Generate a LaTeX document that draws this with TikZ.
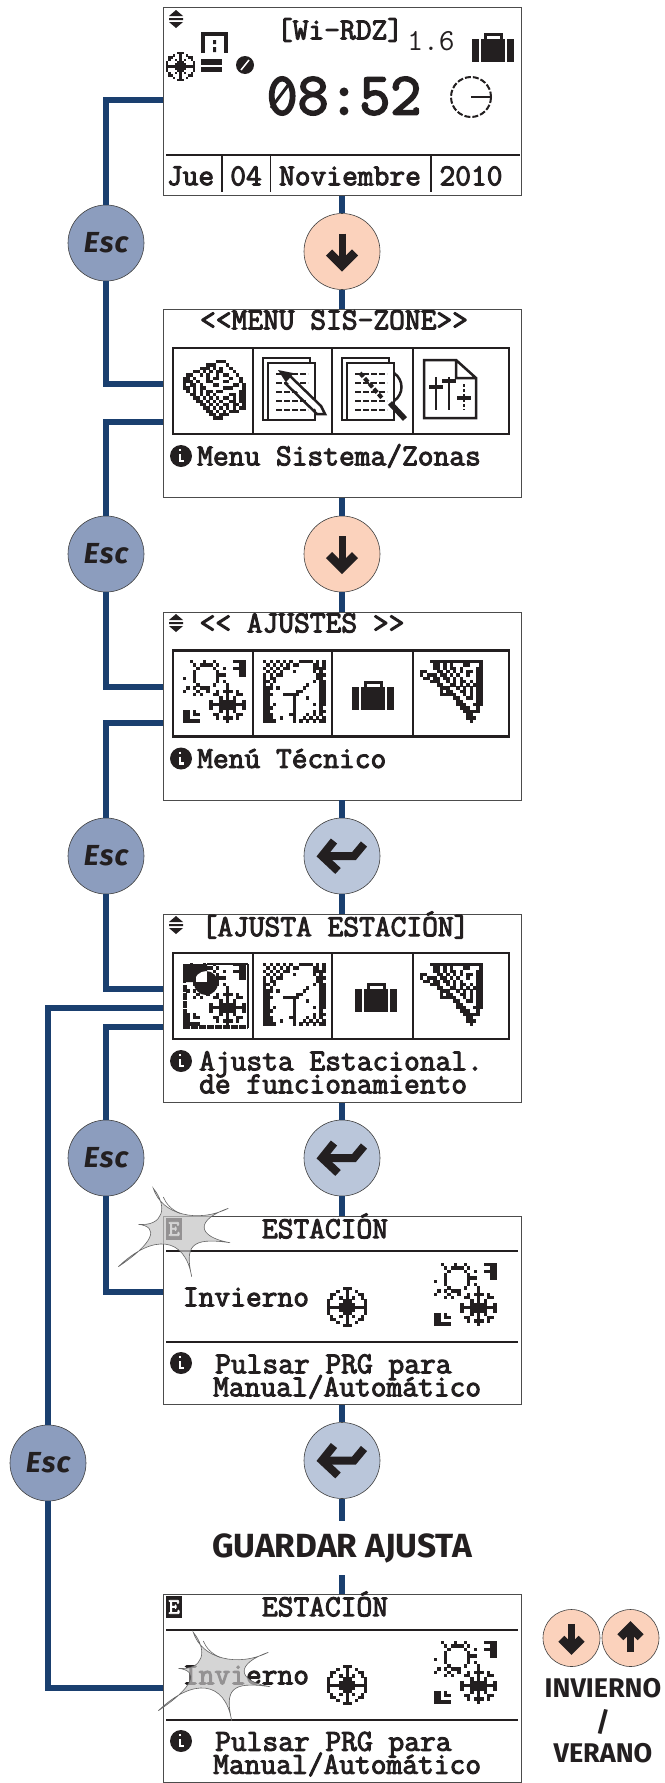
\documentclass[tikz,border=0pt]{standalone}
\usepackage{fontspec}
\setsansfont{Fira Sans}
\newfontfamily\lcdface{Latin Modern Mono}[FakeBold=3.2]
\usepackage{tikz}
\usetikzlibrary{patterns,positioning}
\definecolor{linkblue}{HTML}{1A3F6F}
\definecolor{escblue}{HTML}{8C9DBE}
\definecolor{enterblue}{HTML}{BAC6DA}
\definecolor{keypeach}{HTML}{FBD2BC}
\definecolor{inkblack}{HTML}{231F20}
\lineskiplimit=-30pt
% LCD bitmaps, one string per row, x is a dark pixel
\newcount\pixcol
\def\pixscan#1{\ifx#1;\else\if#1x\fill[inkblack] (\the\pixcol*\pixsize,\pixj*\pixsize-\pixsize) rectangle ++(\pixsize+0.15,\pixsize+0.15);\fi\advance\pixcol by 1 \expandafter\pixscan\fi}
\newcommand{\pixmap}[2]{\def\pixsize{#1}\foreach \pixline [count=\pixj] in {#2} {\pixcol=0 \expandafter\pixscan\pixline;}}
\begin{document}
\begin{tikzpicture}[
x=1pt,y=-1pt,
link/.style={line width=5.5pt,draw=linkblue},
screen/.style={draw=black!70,line width=0.9pt,fill=white,minimum width=358pt,minimum height=188pt,inner sep=0pt},
lcd/.style={font=\fontsize{30.6}{23}\selectfont\lcdface,text=inkblack,inner sep=0pt,align=left},
lcdthin/.style={font=\fontsize{30.6}{23}\selectfont\ttfamily,text=inkblack,inner sep=0pt},
esckey/.style={circle,draw=black!75,line width=0.6pt,fill=escblue,minimum size=76pt,inner sep=0pt,font=\fontsize{29}{29}\selectfont\sffamily\bfseries\itshape,text=inkblack},
downkey/.style={circle,draw=black!75,line width=0.6pt,fill=keypeach,minimum size=76pt,inner sep=0pt},
enterkey/.style={circle,draw=black!75,line width=0.6pt,fill=enterblue,minimum size=76pt,inner sep=0pt},
smallkey/.style={circle,draw=black!75,line width=0.6pt,fill=keypeach,minimum size=57pt,inner sep=0pt},
caption/.style={font=\fontsize{33.5}{33.5}\selectfont\sffamily\bfseries,text=inkblack,inner sep=0pt},
sidetext/.style={font=\fontsize{27}{27}\selectfont\sffamily\bfseries,text=inkblack,inner sep=0pt},
rule/.style={line width=1.6pt,draw=inkblack},
strip/.style={line width=2.8pt,draw=inkblack},
pix/.style={line width=2.5pt,draw=inkblack},
arrowdown/.pic={\draw[line width=7pt,inkblack] (0,-18) -- (0,12);
    \draw[line width=8.5pt,inkblack,line join=miter] (-13,1) -- (0,14) -- (13,1);},
arrowup/.pic={\draw[line width=7pt,inkblack] (0,18) -- (0,-12);
    \draw[line width=8.5pt,inkblack,line join=miter] (-13,-1) -- (0,-14) -- (13,-1);},
enterglyph/.pic={\draw[line width=8pt,inkblack,line join=miter] (-8,-15) -- (-20,0) -- (-4,15);
    \draw[line width=8pt,inkblack] (-20,0) -- (12,0) -- (22,-12);},
updown/.pic={\fill[inkblack] (0,-9) -- (7,-3) -- (-7,-3) -- cycle (-7,-1) rectangle (7,1) (0,9) -- (7,3) -- (-7,3) -- cycle;},
infomark/.pic={\fill[inkblack] (0,0) circle (11);
    \draw[white,line width=2.6pt] (-1,-2) -- (-1,5) -- (3,5) (-1,-7) -- (-1,-5);},
case/.pic={\fill[inkblack] (-21,-10) rectangle (21,13);
    \draw[inkblack,line width=3pt] (-8,-10) -- (-8,-15) -- (8,-15) -- (8,-10);
    \draw[white,line width=1.5pt] (-13,-10) -- (-13,13) (13,-10) -- (13,13);},
snowflake/.pic={\pixmap{3.1}{oooooxxxooooo,oooxooxooxooo,oxxoooxoooxxo,oxooxoxoxooxo,xooooxxxoooox,xoooxxxxxooox,xxxxxxxxxxxxx,xoooxxxxxooox,xooooxxxoooox,oxooxoxoxooxo,oxxoooxoooxxo,oooxooxooxooo,oooooxxxooooo}},
sunsnow/.pic={\pixmap{3.3}{ooxoooxooxoooooxxxx,oooxoxxxxoxooooooxx,ooooxooooxooxooxxxx,oooxooooooxooooooxx,oooxooooooxxxooooxx,xooxooooooxoooooooo,oooxooooooxoxoooooo,ooooxooooxoooxooooo,oxoxoxxxoooooxooooo,xoooxooxooxoxxxoxoo,oooxoxoooxxooxooxxo,oooooooooooxoxoxooo,ooooooooxooxxxxxoox,ooooooooxxxxxxxxxxx,ooooooooxooxxxxxoox,xxoxoooooooxoxoxooo,xxoxxoooo xxooxooxxo,xxooooooooxoxxxoxoo,xxxxxooooooooxooooo}},
ledger/.pic={\pixmap{3.3}{ooooooooooxxxoooooo,oooooooxxxoooxooooo,oooooxxxoxoxooxoooo,oooxxoxoxoxxoooxooo,oxxooxoxooxoxxooxoo,xxoxoooxoxxoooxooxo,xxxoxooxxoooxxoooxo,xoxxoxoooxxooooxxox,xxoxoxxoooooxxxooox,oxoxoxoxxoxxoooooxx,ooxxoxoxoxooooxxoxx,oooxxoxoxoxoxxoxoxx,ooooxxoxoxoxooxxoxx,oooooxxoxoxoxxoxxox,ooooooxxoxoxoxoxoxx,oooooooxxoxoxoxxxoo,ooooooooxxoxxxooooo,oooooooooxxxooooooo}},
pages/.pic={\draw[pix] (5,62) -- (0,62) -- (0,0) -- (47,0) -- (47,5);
    \draw[pix,fill=white] (5,5) rectangle (52,62);
    \draw[pix,dash pattern=on 6pt off 2pt] (13,16) -- (45,16) (13,25) -- (45,25) (13,34) -- (45,34) (13,43) -- (45,43) (13,52) -- (45,52);},
pencil/.pic={\fill[inkblack] (15,12) -- (30,15) -- (24,26) -- cycle;
    \draw[white,line width=7pt] (26,21) -- (56,50);
    \draw[pix] (26,17) -- (58,48) -- (62,56) -- (54,56) -- (22,25);},
lens/.pic={\draw[pix] (52,15) .. controls (62,22) and (62,36) .. (52,43);
    \draw[inkblack,line width=5.5pt] (48,45) -- (63,61);
    \draw[inkblack,line width=4pt,dash pattern=on 5pt off 2pt] (18,15) -- (40,40);},
sliders/.pic={\draw[pix] (0,0) -- (32,0) -- (52,18) -- (52,58) -- (0,58) -- cycle (32,0) -- (32,18) -- (52,18);
    \draw[pix] (12,17) -- (12,50) (25,17) -- (25,50);
    \draw[pix,dash pattern=on 3pt off 2pt] (40,24) -- (40,50);
    \draw[pix,line width=3.5pt] (5,27) -- (19,27) (18,21) -- (32,21) (33,38) -- (47,38);},
dialclock/.pic={\pixmap{3.3}{xoxoxoxoxooxxxxoxox,oxoxoxoxoxxooooxxox,xoxoxoxxoooooooxxxx,oxoxoxoooxoooooxoxo,xoxoxxooooooooooxxx,xoxxooooooooooooxxo,xxoxoooooooooooxoxx,xoxooooooooooxoooxx,xxxoxoooooooxooooxx,xxooooooooxxoooooxx,xxxoooxxxxxooooooxx,xxoooooooxoooxoooxx,xxoooooooxoooooooxx,xxoxoooooxoooooxoxx,xxxooooooxoooooooxo,xxoooooooxoooooxoxx,xxxoooooxxoooxoxoxo,xxxooxoooxooxoxoxox,xxxxoooooxoxoxoxoxx}},
wedge/.pic={\pixmap{3.3}{oooxxxxxxxxxxxxxxxx,ooooxxoxoxoooxxooox,ooooxxoxoxxoxooooxx,xxoooxxoxoxoxoxxoxx,xoxxxoxxoxoxooxooxx,oxxoxxoxxoxoxooooxx,oooxxxooxoxoxxoxoxx,oooooxxooxxoxoxoxxx,ooooooxxxooxoxoxoxx,ooooooxoxxooxxoxoxx,ooooooxxxxxooxoxoxx,ooooooooooxxooxxoxx,oooooooooooxxooooxx,oooooooooooxxxooxxx,ooooooooooooxxxooxo,oooooooooooooxxxxxo,ooooooooooooooxxooo,ooooooooooooooxxxoo,oooooooooooooooxooo}},
flash/.pic={\draw[draw=black!60,line width=0.6pt,fill=black!23,fill opacity=0.7]
    (-18.7,-43.7) .. controls (-10.3,-17) and (26,-8.7) .. (56.3,-23.7)
    .. controls (23,-12) and (24.7,4.7) .. (58,10.7)
    .. controls (18,4.7) and (13,14.7) .. (19.7,44.7)
    .. controls (13,4.7) and (-18.7,1.3) .. (-53.7,34.7)
    .. controls (-18.7,11.3) and (-12,-5.3) .. (-33.7,-7.7)
    .. controls (-8.7,-5.3) and (-3.7,-25.3) .. (-18.7,-43.7) -- cycle;
    \draw[black!60,line width=0.6pt] (-8.7,-35) .. controls (-6,-28) and (0,-22) .. (8,-18.7);}
]
\useasboundingbox (0,0) rectangle (664,1783);

% Screens
\node[screen] (scrClock) at (342,101.5) {};
\node[screen] (scrMenu) at (342,403.5) {};
\node[screen] (scrSettings) at (342,706) {};
\node[screen] (scrSeason) at (342,1008.5) {};
\node[screen] (scrEdit) at (342,1310.5) {};
\node[screen] (scrSaved) at (342,1688) {};

% Keys
\node[esckey] (escA) at (106,243) {E\kern1pt s\kern1pt c};
\node[esckey] (escB) at (106,554) {E\kern1pt s\kern1pt c};
\node[esckey] (escC) at (106,856) {E\kern1pt s\kern1pt c};
\node[esckey] (escD) at (106,1158) {E\kern1pt s\kern1pt c};
\node[esckey] (escE) at (48,1463) {E\kern1pt s\kern1pt c};
\node[downkey] (keyA) at (342,251.5) {};
\node[downkey] (keyB) at (342,554) {};
\node[enterkey] (keyC) at (342,856) {};
\node[enterkey] (keyD) at (342,1158) {};
\node[enterkey] (keyE) at (342,1460.5) {};
\node[caption,minimum height=54pt] (saveText) at (342,1548) {GUARDAR AJUSTA};
\node[smallkey] (keyDown) at (571.5,1638) {};
\node[smallkey] (keyUp) at (630.5,1638) {};
\node[sidetext] (winterText) at (603,1688) {INVIERNO};
\node[sidetext] (slashText) at (603,1722) {/};
\node[sidetext] (summerText) at (603,1753) {VERANO};

% Links
\draw[link] (scrClock) -- (keyA);
\draw[link] (keyA) -- (scrMenu);
\draw[link] (scrMenu) -- (keyB);
\draw[link] (keyB) -- (scrSettings);
\draw[link] (scrSettings) -- (keyC);
\draw[link] (keyC) -- (scrSeason);
\draw[link] (scrSeason) -- (keyD);
\draw[link] (keyD) -- (scrEdit);
\draw[link] (scrEdit) -- (keyE);
\draw[link] (keyE) -- (saveText);
\draw[link] (saveText) -- (scrSaved);

\coordinate (clockOut) at (163,100);
\coordinate (menuIn) at (163,384);
\coordinate (menuOut) at (163,422);
\coordinate (settingsIn) at (163,687);
\coordinate (settingsOut) at (163,723);
\coordinate (seasonIn) at (163,989);
\coordinate (seasonBack) at (163,1008);
\coordinate (seasonOut) at (163,1027);
\coordinate (editIn) at (163,1292);
\coordinate (savedIn) at (163,1688);
\draw[link] (clockOut) -| (escA);
\draw[link] (escA) |- (menuIn);
\draw[link] (menuOut) -| (escB);
\draw[link] (escB) |- (settingsIn);
\draw[link] (settingsOut) -| (escC);
\draw[link] (escC) |- (seasonIn);
\draw[link] (seasonOut) -| (escD);
\draw[link] (escD) |- (editIn);
\draw[link] (seasonBack) -| (escE);
\draw[link] (escE) |- (savedIn);

% Key glyphs
\pic at (keyA) {arrowdown};
\pic at (keyB) {arrowdown};
\pic at (keyC) {enterglyph};
\pic at (keyD) {enterglyph};
\pic at (keyE) {enterglyph};
\pic[scale=0.78] at (keyDown) {arrowdown};
\pic[scale=0.78] at (keyUp) {arrowup};

% First screen
\pic at (176,19) {updown};
\node[lcd] (deviceName) at (340,30) {[Wi-RDZ]};
\node[lcdthin] (versionText) at (431,41) {1.6};
\pic at (493,49) {case};
\draw[inkblack,line width=3.5pt] (203,53) -- (203,34) -- (226,34) -- (226,53);
\fill[inkblack] (213,40) rectangle (216,44) (213,47) rectangle (216,52);
\pic[scale=0.72] at (166,52) {snowflake};
\fill[inkblack] (201,59) rectangle (222,72);
\draw[white,line width=1.5pt] (201,66) -- (222,66);
\fill[inkblack] (245,65) circle (9);
\draw[white,line width=1.5pt] (241,70) -- (249,60);
\node[lcd,font=\fontsize{60}{60}\selectfont\lcdface] (timeText) at (344,96) {08:52};
\draw[inkblack,line width=3pt] (271,108) -- (289,84);
\draw[pix,line width=2pt,dash pattern=on 6pt off 2pt] (471,97) circle (20);
\draw[pix,line width=2pt] (471,97) -- (491,97);
\draw[rule] (166,155) -- (520,155);
\draw[rule] (222,155) -- (222,192) (270.5,155) -- (270.5,192) (431,155) -- (431,192);
\node[lcd] (dayText) at (190.5,176) {Jue};
\node[lcd] (numText) at (246,176) {04};
\node[lcd] (monthText) at (350,176) {Noviembre};
\node[lcd] (yearText) at (471,176) {2010};

% Second screen
\node[lcd] (menuTitle) at (334,320) {<{}<MENU SIS-ZONE>{}>};
\draw[strip] (173,348) rectangle (509,434) (253,348) -- (253,434) (332,348) -- (332,434) (413,348) -- (413,434);
\pic at (183,360) {ledger};
\pic at (263,358) {pages};
\pic at (263,358) {pencil};
\pic at (342,358) {pages};
\pic at (342,358) {lens};
\pic at (424,360) {sliders};
\pic at (181,456) {infomark};
\node[lcd,anchor=west] (menuHelp) at (197,456) {Menu Sistema/Zonas};

% Third screen
\pic at (176,623) {updown};
\node[lcd] (settingsTitle) at (302,623) {<{}< AJUSTES >{}>};
\draw[strip] (173,650.5) rectangle (509,736.5) (253,650.5) -- (253,736.5) (332,650.5) -- (332,736.5) (413,650.5) -- (413,736.5);
\pic at (183,660) {sunsnow};
\pic at (263,660) {dialclock};
\pic at (373,697) {case};
\pic at (420,660) {wedge};
\pic at (181,758.5) {infomark};
\node[lcd,anchor=west] (settingsHelp) at (197,758.5) {Menú Técnico};

% Fourth screen
\pic at (176,925) {updown};
\node[lcd] (seasonTitle) at (335.5,925) {[AJUSTA ESTACIÓN]};
\draw[strip] (173,953) rectangle (509,1039) (253,953) -- (253,1039) (332,953) -- (332,1039) (413,953) -- (413,1039);
\pic at (183,963) {sunsnow};
\fill[inkblack] (183,964) rectangle (207,982) (206,983) circle (12);
\draw[inkblack,line width=4pt,dash pattern=on 7pt off 1pt] (185,985) -- (185,1027) -- (248,1027);
\draw[inkblack,line width=2.5pt] (248,964) -- (248,1028) (207,964) -- (248,964);
\pic at (263,963) {dialclock};
\pic at (376,999) {case};
\pic at (420,963) {wedge};
\pic at (181,1061) {infomark};
\node[lcd,anchor=north west] (seasonHelp) at (199,1051) {Ajusta Estacional.\\de funcionamiento};

% Fifth screen
\fill[inkblack] (166,1218) rectangle (182,1240);
\node[lcd,text=white,font=\fontsize{22}{22}\selectfont\lcdface] (editMark) at (174,1229) {E};
\node[lcd] (editTitle) at (325,1226) {ESTACIÓN};
\draw[rule] (166,1251) -- (518,1251) (166,1342) -- (518,1342);
\node[lcd] (editWinter) at (246,1297) {Invierno};
\pic at (327,1287) {snowflake};
\pic at (434,1263) {sunsnow};
\pic at (181,1363) {infomark};
\node[lcd,anchor=north west] (editHelp) at (213,1354) {\kern2pt Pulsar PRG para\\Manual/Automático};
\pic at (172,1232) {flash};

% Last screen
\fill[inkblack] (166,1596) rectangle (182,1618);
\node[lcd,text=white,font=\fontsize{22}{22}\selectfont\lcdface] (savedMark) at (174,1607) {E};
\node[lcd] (savedTitle) at (325,1604) {ESTACIÓN};
\draw[rule] (166,1630) -- (518,1630) (166,1720) -- (518,1720);
\node[lcd] (savedWinter) at (246,1675) {Invierno};
\pic at (327,1665) {snowflake};
\pic at (434,1641) {sunsnow};
\pic at (181,1741) {infomark};
\node[lcd,anchor=north west] (savedHelp) at (213,1731.5) {\kern2pt Pulsar PRG para\\Manual/Automático};
\pic at (212,1676) {flash};
\end{tikzpicture}
\end{document}
